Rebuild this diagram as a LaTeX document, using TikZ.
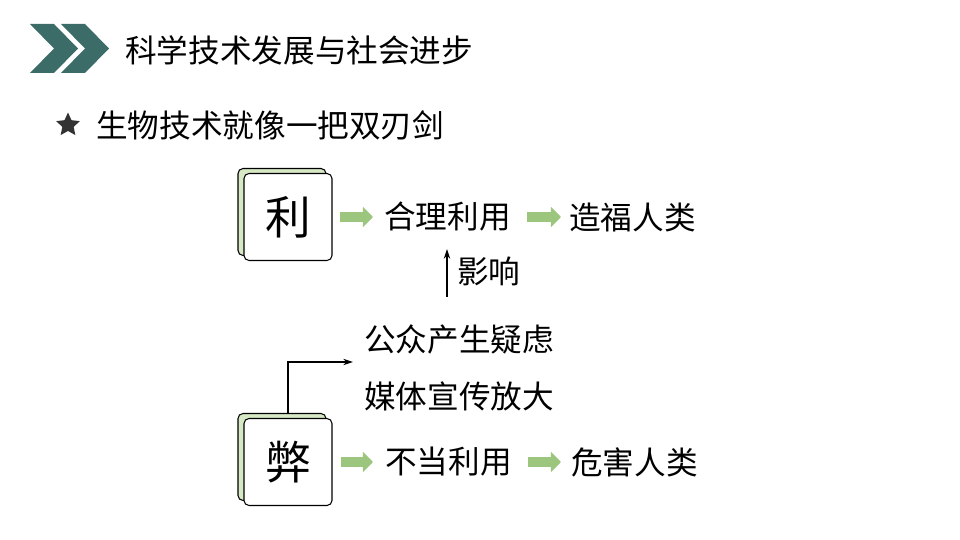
\documentclass[tikz,border=0pt]{standalone}
\usepackage{fontspec}
\setmainfont{Noto Sans CJK SC}
\usetikzlibrary{arrows.meta,shapes.geometric}
\definecolor{chevteal}{RGB}{60,108,104}
\definecolor{boxgreen}{RGB}{214,232,196}
\definecolor{arrowgreen}{RGB}{156,198,126}
\definecolor{stargray}{RGB}{51,51,51}

\begin{document}
\begin{tikzpicture}[x=0.02cm, y=-0.02cm,
  txt/.style={draw=none, anchor=west, inner sep=0pt, font=\fontsize{18pt}{22pt}\selectfont},
  frontbox/.style={rectangle, draw=black, line width=0.6pt, fill=white, rounded corners=0.1cm, minimum width=1.76cm, minimum height=1.74cm, inner sep=0pt, font=\fontsize{26pt}{30pt}\selectfont},
  backbox/.style={frontbox, fill=boxgreen},
  blockarrow/.style={draw=arrowgreen, line width=5.7pt, -{Triangle[length=5.7pt,width=11.3pt]}},
  thinarrow/.style={draw=black, line width=0.6pt, -{Stealth[length=5.5pt,width=3.6pt]}}]
\useasboundingbox (0,0) rectangle (960,540);
%%%%%%%%%%%%%%%%%%%
\fill[chevteal] (30,24) -- (54,24) -- (78,48.5) -- (54,73) -- (30,73) -- (54,48.5) -- cycle;
\fill[chevteal] (61,24) -- (85,24) -- (109,48.5) -- (85,73) -- (61,73) -- (85,48.5) -- cycle;
\node[txt] (title) at (125,50) {科学技术发展与社会进步};
\node[star, star points=5, star point ratio=2.1, fill=stargray, inner sep=0pt, minimum size=0.5cm] (bullet) at (68,125) {};
\node[txt] (sub) at (96,125) {生物技术就像一把双刃剑};

%%%%%%%%%%%%%%%%%%%
\node[backbox] (liback) at (282,212) {};
\node[frontbox] (li) at (288,217) {利};
\node[backbox] (biback) at (282,457) {};
\node[frontbox] (bi) at (288,462) {弊};

%%%%%%%%%%%%%%%%%%%
\node[txt] (use) at (384,217) {合理利用};
\node[txt] (good) at (569,217) {造福人类};
\node[txt] (affect) at (457,271) {影响};
\node[txt] (doubt) at (364,339) {公众产生疑虑};
\node[txt] (media) at (364,396) {媒体宣传放大};
\node[txt] (misuse) at (385,462) {不当利用};
\node[txt] (harm) at (571,462) {危害人类};

%%%%%%%%%%%%%%%%%%%
\draw[blockarrow, shorten <=0.14cm, shorten >=0.22cm] (li) -- (use);
\draw[blockarrow, shorten <=0.32cm, shorten >=0.16cm] (use) -- (good);
\draw[blockarrow, shorten <=0.16cm, shorten >=0.24cm] (bi) -- (misuse);
\draw[blockarrow, shorten <=0.32cm, shorten >=0.2cm] (misuse) -- (harm);

\coordinate (rise) at (447,297);
\coordinate (fork) at (353,362);
\draw[thinarrow, shorten >=0.34cm] (rise) -- (rise |- use.south);
\draw[thinarrow, shorten <=0.1cm] (bi.north) |- (fork);
\end{tikzpicture}
\end{document}
